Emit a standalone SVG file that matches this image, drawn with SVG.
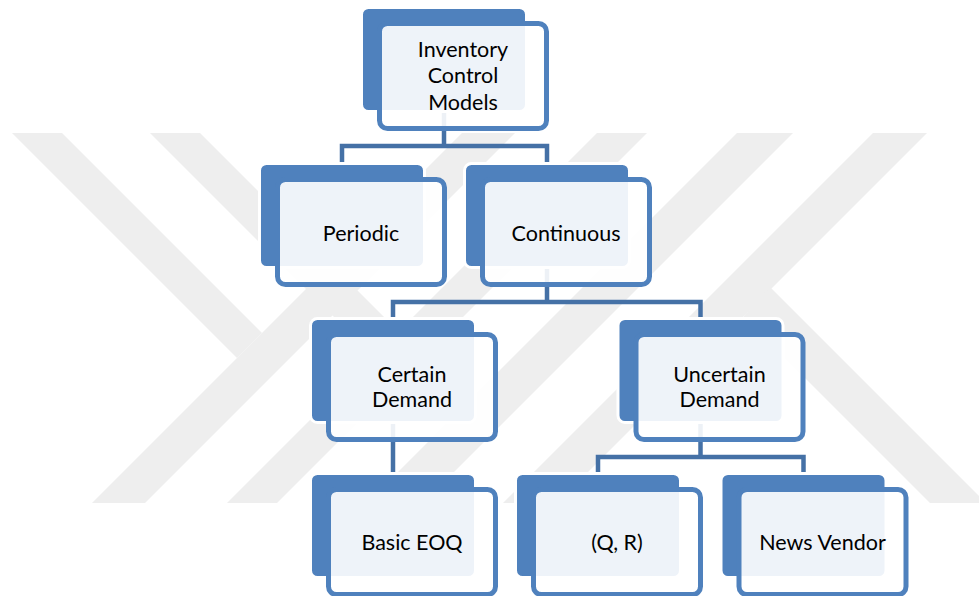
<svg xmlns="http://www.w3.org/2000/svg" width="979" height="596" viewBox="0 0 979 596">
<style>
.wm{fill:#eeeeee}
.conn{fill:none;stroke:#4571A6;stroke-width:4.5;stroke-linejoin:miter}
.back{fill:#4F81BD;stroke:#ffffff;stroke-width:3}
.front{fill:#ffffff;fill-opacity:0.9;stroke:#4F81BD;stroke-width:5}
.lbl{font-family:Lato,"Liberation Sans",sans-serif;font-size:21.5px;fill:#000000;text-anchor:middle}
</style>
<rect width="979" height="596" fill="#ffffff"/>
<g id="watermark">
<polygon class="wm" points="92,503 145,503 515,133 462,133"/>
<polygon class="wm" points="227,503 277,503 647,133 597,133"/>
<polygon class="wm" points="367,503 423,503 793,133 737,133"/>
<polygon class="wm" points="503,503 557,503 927,133 873,133"/>
<polygon class="wm" points="12,133 62,133 262,333 237,358"/>
<polygon class="wm" points="150,133 200,133 398.5,331.5 373.5,356.5"/>
<polygon class="wm" points="770,287 979,496 979,503 930,503 743.5,316.5"/>
</g>
<g id="connectors">
<path class="conn" d="M342,166 V146 H547 V166 M444,112 V146"/>
<path class="conn" d="M393,321 V302 H700.5 V321 M547,268 V302"/>
<path class="conn" d="M393,422 V476"/>
<path class="conn" d="M598,476 V457 H803.5 V476 M700.5,422 V457"/>
</g>
<g id="n-inventory" transform="translate(363,9)">
<rect class="back" x="-1.5" y="-1.5" width="165" height="104" rx="7"/>
<rect class="front" x="16.5" y="14.5" width="167" height="105" rx="8"/>
<text class="lbl" x="100" y="47.7">Inventory</text>
<text class="lbl" x="100" y="74.3">Control</text>
<text class="lbl" x="100" y="101">Models</text>
</g>
<g id="n-periodic" transform="translate(261,165)">
<rect class="back" x="-1.5" y="-1.5" width="165" height="104" rx="7"/>
<rect class="front" x="16.5" y="14.5" width="167" height="105" rx="8"/>
<text class="lbl" x="100" y="75.7">Periodic</text>
</g>
<g id="n-continuous" transform="translate(466,165)">
<rect class="back" x="-1.5" y="-1.5" width="165" height="104" rx="7"/>
<rect class="front" x="16.5" y="14.5" width="167" height="105" rx="8"/>
<text class="lbl" x="100" y="75.7">Continuous</text>
</g>
<g id="n-certain" transform="translate(312,320)">
<rect class="back" x="-1.5" y="-1.5" width="165" height="104" rx="7"/>
<rect class="front" x="16.5" y="14.5" width="167" height="105" rx="8"/>
<text class="lbl" x="100" y="61.7">Certain</text>
<text class="lbl" x="100" y="87.3">Demand</text>
</g>
<g id="n-uncertain" transform="translate(619.5,320)">
<rect class="back" x="-1.5" y="-1.5" width="165" height="104" rx="7"/>
<rect class="front" x="16.5" y="14.5" width="167" height="105" rx="8"/>
<text class="lbl" x="100" y="61.7">Uncertain</text>
<text class="lbl" x="100" y="87.3">Demand</text>
</g>
<g id="n-basic-eoq" transform="translate(312,475)">
<rect class="back" x="-1.5" y="-1.5" width="165" height="104" rx="7"/>
<rect class="front" x="16.5" y="14.5" width="167" height="105" rx="8"/>
<text class="lbl" x="100" y="75">Basic EOQ</text>
</g>
<g id="n-qr" transform="translate(517,475)">
<rect class="back" x="-1.5" y="-1.5" width="165" height="104" rx="7"/>
<rect class="front" x="16.5" y="14.5" width="167" height="105" rx="8"/>
<text class="lbl" x="100" y="75">(Q, R)</text>
</g>
<g id="n-news-vendor" transform="translate(722.5,475)">
<rect class="back" x="-1.5" y="-1.5" width="165" height="104" rx="7"/>
<rect class="front" x="16.5" y="14.5" width="167" height="105" rx="8"/>
<text class="lbl" x="100" y="75">News Vendor</text>
</g>
</svg>
